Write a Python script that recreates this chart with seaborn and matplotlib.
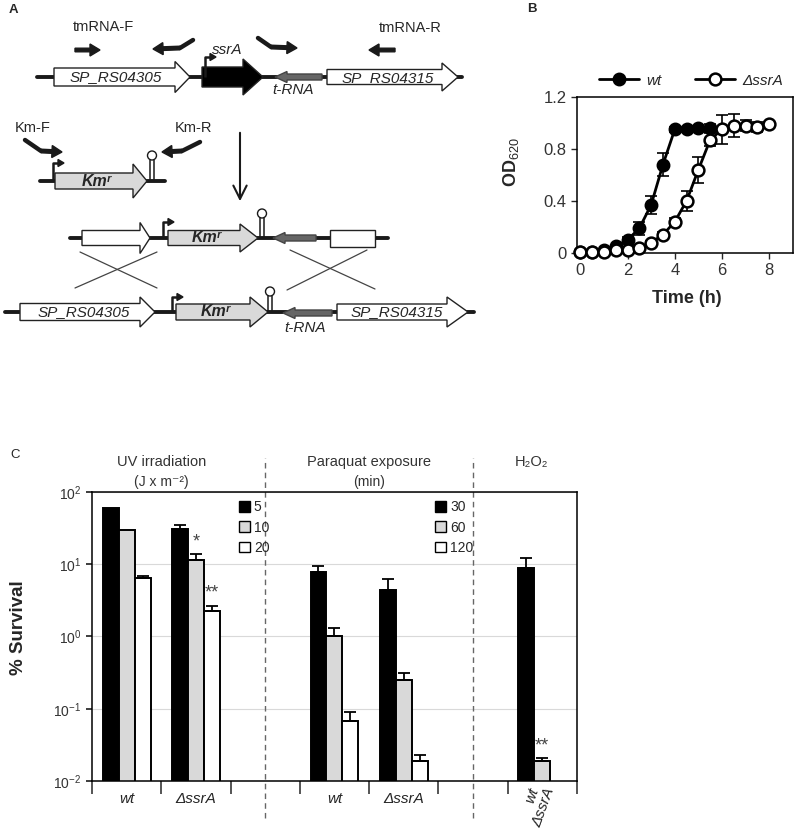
import numpy as np
import pandas as pd
import matplotlib
matplotlib.use("Agg")
import matplotlib.pyplot as plt
import matplotlib.transforms as mtransforms
import seaborn as sns
from matplotlib.patches import Polygon, Circle, Rectangle, Patch
from matplotlib.ticker import FixedLocator, NullLocator

# ---- panel B: growth curves ----
time_wt = [0, 0.5, 1, 1.5, 2, 2.5, 3, 3.5, 4, 4.5, 5, 5.5]
od_wt = [0.01, 0.01, 0.02, 0.05, 0.10, 0.19, 0.37, 0.68, 0.95, 0.95, 0.96, 0.96]
od_wt_err = [0.01, 0.01, 0.01, 0.01, 0.02, 0.05, 0.07, 0.09, 0.02, 0.02, 0.02, 0.03]
time_ko = [0, 0.5, 1, 1.5, 2, 2.5, 3, 3.5, 4, 4.5, 5, 5.5, 6, 6.5, 7, 7.5, 8]
od_ko = [0.01, 0.01, 0.01, 0.02, 0.02, 0.04, 0.08, 0.14, 0.24, 0.40, 0.64, 0.87,
         0.95, 0.98, 0.98, 0.97, 0.99]
od_ko_err = [0.01, 0.01, 0.01, 0.01, 0.01, 0.01, 0.01, 0.02, 0.03, 0.08, 0.10, 0.05,
             0.11, 0.09, 0.04, 0.04, 0.02]

# ---- panel C: % survival ----
levels = ["d1", "d2", "d3"]
level_colors = {"d1": "black", "d2": "#d9d9d9", "d3": "white"}
uv_doses = ["5", "10", "20"]
pq_times = ["30", "60", "120"]
slot_order = ["UV_wt", "UV_ssrA", "gap1", "PQ_wt", "PQ_ssrA", "gap2", "H2O2"]
slot_labels = ["wt", "ΔssrA", "", "wt", "ΔssrA", "", ""]

uv_wt = [60.7, 29.5, 6.45]
uv_wt_err = [0, 0, 0.35]
uv_ssra = [30.8, 11.6, 2.23]
uv_ssra_err = [4.5, 2.1, 0.41]
uv_ssra_sig = ["", "*", "**"]
pq_wt = [7.81, 1.0, 0.0677]
pq_wt_err = [1.54, 0.30, 0.022]
pq_ssra = [4.45, 0.247, 0.0187]
pq_ssra_err = [1.73, 0.066, 0.0045]
h2o2_vals = [8.97, 0.0187]
h2o2_err = [3.3, 0.0019]
h2o2_sig = ["", "**"]
h2o2_labels = ["wt", "ΔssrA"]

rows = []
for slot, vals, errs, sig in [("UV_wt", uv_wt, uv_wt_err, None),
                              ("UV_ssrA", uv_ssra, uv_ssra_err, uv_ssra_sig),
                              ("PQ_wt", pq_wt, pq_wt_err, None),
                              ("PQ_ssrA", pq_ssra, pq_ssra_err, None),
                              ("H2O2", h2o2_vals, h2o2_err, h2o2_sig)]:
    for i, (v, e) in enumerate(zip(vals, errs)):
        rows.append({"slot": slot, "level": levels[i], "value": v, "err": e,
                     "mark": sig[i] if sig else ""})
dfc = pd.DataFrame(rows)

sns.set_theme(style="ticks", rc={"axes.edgecolor": "black", "axes.linewidth": 1.1})
plt.rcParams["font.family"] = ["Liberation Sans", "DejaVu Sans"]
plt.rcParams["mathtext.fontset"] = "custom"
plt.rcParams["mathtext.rm"] = "Liberation Sans"
plt.rcParams["mathtext.it"] = "Liberation Sans:italic"
plt.rcParams["mathtext.bf"] = "Liberation Sans:bold"

fig = plt.figure(figsize=(8, 8.32), dpi=100)

# ---------------- panel A: schematic, pixel coords ----------------
axa = fig.add_axes([0, 0, 1, 1])
axa.set_xlim(0, 800)
axa.set_ylim(832, 0)
axa.axis("off")


def gene(x0, x1, tip, yc, bh, hh, fc, ec="#222", lw=1):
    pts = [(x0, yc - bh / 2), (x1, yc - bh / 2), (x1, yc - hh / 2), (tip, yc),
           (x1, yc + hh / 2), (x1, yc + bh / 2), (x0, yc + bh / 2)]
    axa.add_patch(Polygon(pts, closed=True, fc=fc, ec=ec, lw=lw, zorder=3))


def promoter(x, y, h, w=9):
    axa.plot([x, x, x + w - 4], [y, y - h, y - h], color="k", lw=1.8, zorder=4,
             solid_capstyle="butt")
    axa.add_patch(Polygon([(x + w - 4, y - h - 3.5), (x + w + 2, y - h),
                           (x + w - 4, y - h + 3.5)], fc="k", ec="k", zorder=4))


def terminator(x, y, h, r=4.5):
    for dx in (-1.6, 1.6):
        axa.plot([x + dx, x + dx], [y, y - h], color="k", lw=1.1, zorder=4)
    axa.add_patch(Circle((x, y - h - r), r, fc="white", ec="k", lw=1, zorder=4))


def primer(pts):
    xs, ys = zip(*pts)
    if len(pts) > 2:
        axa.plot(xs[:-1], ys[:-1], color="k", lw=3.2, zorder=4, solid_capstyle="round")
    axa.arrow(xs[-2], ys[-2], xs[-1] - xs[-2], ys[-1] - ys[-2], width=3.6,
              head_width=12, head_length=10, length_includes_head=True,
              fc="k", ec="k", zorder=4)


def label(x, y, s, size=10.5, **kw):
    axa.text(x, y, s, ha="center", va="center", fontsize=size, **kw)


# backbones
for (xa, xb, yy) in [(37, 462, 77), (40, 165, 181), (70, 388, 238), (5, 474, 312)]:
    axa.plot([xa, xb], [yy, yy], color="k", lw=2.8, zorder=1)

# row 1: wild-type locus
gene(54, 175, 190, 77, 18, 31, "white")
gene(202, 243, 263, 77, 20, 36, "black")
gene(322, 287, 275, 77, 6, 11, "#666", ec="#444")
gene(327, 442, 458, 77, 15, 28, "white")
promoter(205, 77, 20)
label(116, 77, "SP_RS04305", 11, style="italic")
label(388, 78, "SP_RS04315", 11, style="italic")
label(227, 50, "ssrA", 11, style="italic")
label(293, 90, "t-RNA", 11, style="italic")
label(103, 27, "tmRNA-F")
label(410, 28, "tmRNA-R")
primer([(75, 50), (100, 50)])
primer([(193, 40), (180, 48), (153, 49)])
primer([(258, 38), (271, 47), (297, 48)])
primer([(395, 50), (369, 50)])

# row 2: Km cassette
gene(55, 133, 147, 181, 16, 34, "#d9d9d9")
promoter(53, 181, 18)
terminator(152, 181, 21)
label(97, 181, "Kmʳ", 11.5, style="italic", fontweight="bold")
label(33, 128, "Km-F")
label(193, 128, "Km-R")
primer([(25, 140), (41, 151), (62, 152)])
primer([(200, 142), (182, 151), (162, 152)])
axa.annotate("", xy=(240, 204), xytext=(240, 130),
             arrowprops=dict(arrowstyle="->", lw=1.5, color="k", mutation_scale=24))

# row 3: construct
gene(82, 140, 150, 238, 15, 31, "white")
gene(168, 240, 258, 238, 15, 28, "#d9d9d9")
gene(316, 285, 273, 238, 6, 11, "#666", ec="#444")
axa.add_patch(Rectangle((330, 230), 45, 17, fc="white", ec="#222", lw=1, zorder=3))
promoter(163, 238, 16)
terminator(262, 238, 20)
label(207, 238, "Kmʳ", 11.5, style="italic", fontweight="bold")

# crossover lines
for (p, q) in [((80, 252), (157, 288)), ((157, 252), (75, 288)),
               ((290, 250), (375, 289)), ((367, 250), (287, 290))]:
    axa.plot([p[0], q[0]], [p[1], q[1]], color="#444", lw=0.9, zorder=2)

# row 4: mutant locus
gene(20, 140, 155, 312, 17, 30, "white")
gene(176, 250, 268, 312, 16, 30, "#d9d9d9")
gene(332, 295, 283, 313, 6, 11, "#666", ec="#444")
gene(337, 447, 468, 312, 16, 30, "white")
promoter(172, 312, 15)
terminator(270, 312, 16)
label(84, 312, "SP_RS04305", 11, style="italic")
label(397, 312, "SP_RS04315", 11, style="italic")
label(216, 312, "Kmʳ", 11.5, style="italic", fontweight="bold")
label(305, 328, "t-RNA", 11, style="italic")

# panel letters
axa.text(13, 10, "A", fontsize=9.5, fontweight="bold", ha="center", va="center")
axa.text(532, 9, "B", fontsize=9.5, fontweight="bold", ha="center", va="center")
axa.text(15, 455, "C", fontsize=9.5, ha="center", va="center")

# ---------------- panel B ----------------
axb = fig.add_axes([0.721, 0.696, 0.27, 0.1875])
axb.errorbar(time_wt, od_wt, yerr=od_wt_err, fmt="none", ecolor="black",
             elinewidth=1.2, capsize=4, capthick=1.2, zorder=2)
axb.errorbar(time_ko, od_ko, yerr=od_ko_err, fmt="none", ecolor="black",
             elinewidth=1.2, capsize=4, capthick=1.2, zorder=2)
sns.lineplot(x=time_wt, y=od_wt, ax=axb, color="black", lw=2, marker="o",
             markersize=8.5, markerfacecolor="black", markeredgecolor="black",
             markeredgewidth=1.5, label="wt", zorder=3, clip_on=False)
sns.lineplot(x=time_ko, y=od_ko, ax=axb, color="black", lw=2, marker="o",
             markersize=8.5, markerfacecolor="white", markeredgecolor="black",
             markeredgewidth=1.8, label="ΔssrA", zorder=4, clip_on=False)
axb.set_xlim(-0.15, 9)
axb.set_ylim(0, 1.2)
axb.set_xticks([0, 2, 4, 6, 8])
axb.set_yticks([0, 0.4, 0.8, 1.2])
axb.set_yticklabels(["0", "0.4", "0.8", "1.2"])
axb.tick_params(direction="out", length=4, width=1, labelsize=12, labelcolor="#333")
axb.set_xlabel("Time (h)", fontsize=13, fontweight="bold")
axb.set_ylabel("OD$_{620}$", fontsize=13, fontweight="bold")
axb.xaxis.set_label_coords(0.51, -0.235)
axb.yaxis.set_label_coords(-0.26, 0.58)
handles, labels = axb.get_legend_handles_labels()
axb.legend(handles, labels, loc="lower center", bbox_to_anchor=(0.53, 1.0), ncol=2,
           frameon=False, prop=dict(style="italic", size=11), handlelength=2.6,
           columnspacing=2.2, borderaxespad=0.2, handletextpad=0.5)

# ---------------- panel C ----------------
axc = fig.add_axes([0.115, 0.0613, 0.606, 0.3474])
sns.barplot(data=dfc, x="slot", y="value", hue="level", order=slot_order,
            hue_order=levels, palette=level_colors, width=0.69, edgecolor="black",
            linewidth=1.4, errorbar=None, legend=False, ax=axc)
axc.set_yscale("log", nonpositive="clip")
axc.set_ylim(1e-2, 1e2)
axc.set_xlim(-0.5, 6.5)
axc.set_axisbelow(True)
axc.yaxis.grid(True, which="major", color="#d9d9d9", lw=0.8)
axc.yaxis.set_minor_locator(NullLocator())

centers = {}
for bar in axc.patches:
    h = bar.get_height()
    if not np.isfinite(h) or h <= 0:
        continue
    cx = bar.get_x() + bar.get_width() / 2
    slot = slot_order[int(round(cx))]
    match = dfc[(dfc.slot == slot) & np.isclose(dfc.value, h)]
    if match.empty:
        continue
    e = match.err.iloc[0]
    centers[(slot, match.level.iloc[0])] = cx
    if e > 0:
        axc.errorbar(cx, h, yerr=[[0], [e]], fmt="none", ecolor="black",
                     elinewidth=1.3, capsize=4, capthick=1.3, zorder=3)
    if match.mark.iloc[0]:
        axc.text(cx, (h + e) * 1.5, match.mark.iloc[0], ha="center", va="center",
                 fontsize=13, color="#444")

axc.set_xticks(range(len(slot_order)))
axc.set_xticklabels(slot_labels, style="italic", fontsize=11)
axc.tick_params(axis="x", which="major", length=0, pad=8)
axc.xaxis.set_minor_locator(FixedLocator(np.arange(-0.5, 7, 1)))
axc.tick_params(axis="x", which="minor", length=9, width=1.1, direction="out")
axc.tick_params(axis="y", which="major", length=4, direction="out", labelsize=10,
                labelcolor="#333")
axc.set_xlabel("")
axc.set_ylabel("% Survival", fontsize=13.5, fontweight="bold")
axc.yaxis.set_label_coords(-0.134, 0.53)

blend = mtransforms.blended_transform_factory(axc.transData, axc.transAxes)
for xd in (2, 5):
    axc.axvline(xd, ymin=-0.128, ymax=1.118, color="#666", ls=(0, (4, 3)), lw=1,
                clip_on=False)
axc.text(0.5, 1.104, "UV irradiation", transform=blend, ha="center", va="center",
         fontsize=10.5, color="#333")
axc.text(0.5, 1.035, "(J x m⁻²)", transform=blend, ha="center", va="center",
         fontsize=10, color="#333")
axc.text(3.5, 1.104, "Paraquat exposure", transform=blend, ha="center", va="center",
         fontsize=10.5, color="#333")
axc.text(3.5, 1.035, "(min)", transform=blend, ha="center", va="center",
         fontsize=10, color="#333")
axc.text(5.85, 1.104, "H₂O₂", transform=blend, ha="center", va="center",
         fontsize=10.5, color="#333")

for lev, lab in zip(levels[:2], h2o2_labels):
    axc.text(centers[("H2O2", lev)] + 0.12, -0.025, lab, transform=blend, rotation=70,
             rotation_mode="anchor", ha="right", va="center", style="italic",
             fontsize=11)

legs = []
for names, xa in [(uv_doses, 0.285), (pq_times, 0.69)]:
    hs = [Patch(fc=level_colors[l], ec="black", lw=1) for l in levels]
    legs.append(axc.legend(hs, names, loc="upper left", bbox_to_anchor=(xa, 1.0),
                           frameon=False, fontsize=10, handlelength=0.8,
                           handleheight=0.8, handletextpad=0.3, labelspacing=0.45,
                           borderaxespad=0.2))
axc.add_artist(legs[0])

fig.savefig("out.png", dpi=100)
